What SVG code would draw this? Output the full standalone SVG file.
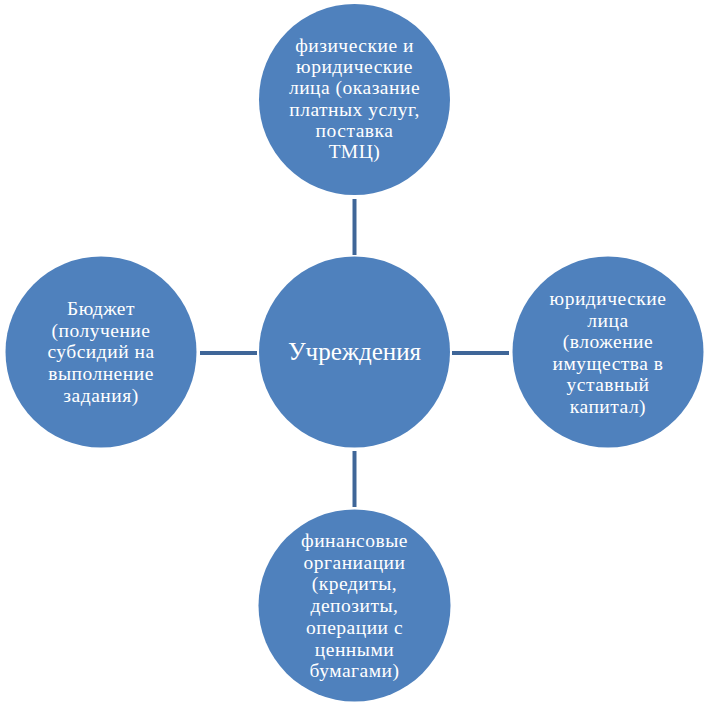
<svg xmlns="http://www.w3.org/2000/svg" width="709" height="705" viewBox="0 0 709 705">
<style>
.n{fill:#4f81bd;}
.t{font-family:"Liberation Serif","Times New Roman",serif;font-size:19.5px;letter-spacing:0.5px;fill:#ffffff;text-anchor:middle;}
.m{font-family:"Liberation Serif","Times New Roman",serif;font-size:25px;fill:#ffffff;text-anchor:middle;}
.c{stroke:#3f6698;stroke-width:4;fill:none;}
</style>
<rect width="709" height="705" fill="#ffffff"/>
<g id="connectors">
<line class="c" x1="354.5" y1="199" x2="354.5" y2="255"/>
<line class="c" x1="200" y1="353" x2="257" y2="353"/>
<line class="c" x1="452" y1="353" x2="509" y2="353"/>
<line class="c" x1="354.5" y1="451" x2="354.5" y2="507"/>
</g>
<g id="center">
<circle class="n" cx="354.5" cy="352" r="95.5"/>
<text class="m" x="354.5" y="360">Учреждения</text>
</g>
<g id="top">
<circle class="n" cx="354.5" cy="99.5" r="95.5"/>
<text class="t" x="354.5" y="52">физические и</text>
<text class="t" x="354.5" y="73.2">юридические</text>
<text class="t" x="354.5" y="94.4">лица (оказание</text>
<text class="t" x="354.5" y="115.6">платных услуг,</text>
<text class="t" x="354.5" y="136.8">поставка</text>
<text class="t" x="354.5" y="158">ТМЦ)</text>
</g>
<g id="left">
<circle class="n" cx="101" cy="352" r="95.5"/>
<text class="t" x="101" y="315">Бюджет</text>
<text class="t" x="101" y="336.7">(получение</text>
<text class="t" x="101" y="358.4">субсидий на</text>
<text class="t" x="101" y="380.1">выполнение</text>
<text class="t" x="101" y="401.8">задания)</text>
</g>
<g id="right">
<circle class="n" cx="608" cy="352" r="95.5"/>
<text class="t" x="608" y="305">юридические</text>
<text class="t" x="608" y="326.5">лица</text>
<text class="t" x="608" y="348">(вложение</text>
<text class="t" x="608" y="369.5">имущества в</text>
<text class="t" x="608" y="391">уставный</text>
<text class="t" x="608" y="412.5">капитал)</text>
</g>
<g id="bottom">
<circle class="n" cx="354.5" cy="605.5" r="96"/>
<text class="t" x="354.5" y="547">финансовые</text>
<text class="t" x="354.5" y="568.7">органиации</text>
<text class="t" x="354.5" y="590.4">(кредиты,</text>
<text class="t" x="354.5" y="612.1">депозиты,</text>
<text class="t" x="354.5" y="633.8">операции с</text>
<text class="t" x="354.5" y="655.5">ценными</text>
<text class="t" x="354.5" y="677.2">бумагами)</text>
</g>
</svg>
